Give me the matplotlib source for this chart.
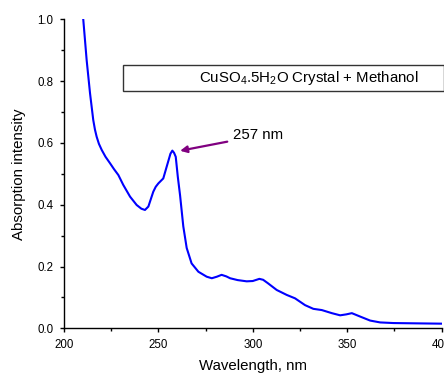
import matplotlib
matplotlib.use('Agg')
import matplotlib.pyplot as plt
from matplotlib.patches import Rectangle

plt.rcParams['font.family'] = ['Liberation Sans', 'DejaVu Sans']
plt.rcParams['mathtext.fontset'] = 'custom'
plt.rcParams['mathtext.rm'] = 'Liberation Sans'

# UV-vis spectrum
wavelength = [210.2, 212, 213.8, 215.5, 216.4, 217.3, 218.5, 220, 222, 224.4,
              226.5, 228.8, 231.4, 235, 238.5, 241, 242.9, 244.7, 246, 247.3,
              248.6, 250, 252.6, 254.4, 256.4, 257.4, 258.3, 259.2, 260.3, 261.5,
              263.2, 265, 267.6, 271.2, 275.6, 278.3, 281, 283.5, 286, 288,
              292, 296.8, 300, 303.5, 305.5, 308, 312.7, 318, 322.4, 327.7,
              332.1, 336.6, 341.9, 346.3, 349.5, 352.5, 356.9, 362.2, 367.5, 374.5,
              386.9, 400]
absorption = [1.00, 0.868, 0.760, 0.674, 0.643, 0.620, 0.597, 0.577, 0.555, 0.534,
              0.515, 0.496, 0.464, 0.426, 0.399, 0.387, 0.383, 0.394, 0.418, 0.442,
              0.458, 0.469, 0.485, 0.523, 0.565, 0.575, 0.568, 0.555, 0.49, 0.43,
              0.33, 0.26, 0.21, 0.183, 0.167, 0.162, 0.167, 0.173, 0.168, 0.162,
              0.156, 0.152, 0.153, 0.160, 0.157, 0.146, 0.124, 0.108, 0.097, 0.075,
              0.063, 0.059, 0.049, 0.042, 0.045, 0.049, 0.038, 0.025, 0.019, 0.017,
              0.016, 0.015]

peak_label = '257 nm'
legend_text = r'CuSO$_\mathregular{4}$.5H$_\mathregular{2}$O Crystal + Methanol'

fig = plt.figure(figsize=(4.44, 3.77), dpi=100)
ax = fig.add_axes([64 / 444, 1 - 328.3 / 377, 377.5 / 444, 309 / 377])

ax.plot(wavelength, absorption, color='#0000ff', lw=1.5, solid_joinstyle='round')

ax.set_xlim(200, 400)
ax.set_ylim(0, 1.0)
ax.set_xticks([200, 250, 300, 350, 400])
ax.set_xticks([225, 275, 325, 375], minor=True)
ax.set_yticks([0.0, 0.2, 0.4, 0.6, 0.8, 1.0])
ax.set_yticks([0.1, 0.3, 0.5, 0.7, 0.9], minor=True)
ax.set_yticklabels(['0.0', '0.2', '0.4', '0.6', '0.8', '1.0'])

for s in ['top', 'right']:
    ax.spines[s].set_visible(False)
for s in ['left', 'bottom']:
    ax.spines[s].set_linewidth(1.0)

ax.tick_params(which='major', direction='out', length=3, width=1.0,
               labelsize=8.3, pad=4.5)
ax.tick_params(which='minor', direction='out', length=2, width=1.0)

ax.set_xlabel('Wavelength, nm', fontsize=10.8, labelpad=6)
ax.set_ylabel('Absorption intensity', fontsize=10.8, labelpad=8)

# arrow pointing at the peak
ax.annotate('', xy=(261.5, 0.5745), xytext=(286.5, 0.604),
            arrowprops=dict(arrowstyle='-|>', color='#800080', lw=1.6,
                            mutation_scale=10, shrinkA=0, shrinkB=0))
ax.text(289.7, 0.627, peak_label, fontsize=10.8, ha='left', va='center')

# legend-like box
fig.patches.append(Rectangle((122.5 / 444, 1 - 91 / 377), (443.5 - 122.5) / 444, 26 / 377,
                             transform=fig.transFigure, fill=False,
                             edgecolor='#333333', lw=1.0))
fig.text(309 / 444, 1 - 78 / 377, legend_text, fontsize=10.8,
         ha='center', va='center')

fig.savefig('out.png', dpi=100)
